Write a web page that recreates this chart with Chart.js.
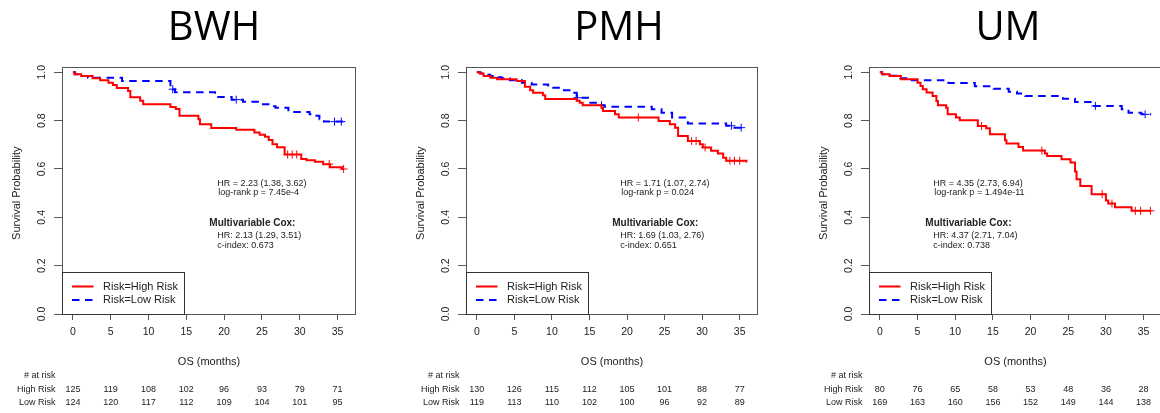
<!DOCTYPE html>
<html><head><meta charset="utf-8">
<script src="https://cdn.jsdelivr.net/npm/chart.js@4.4.1/dist/chart.umd.min.js"></script>
<style>
html,body{margin:0;padding:0;background:#fff;overflow:hidden;width:1160px;height:413px;position:relative;}
.panel{position:absolute;top:0;width:400px;height:413px;}
canvas{display:block;}
</style></head><body>
<div class="panel" style="left:0px"><canvas id="c0" width="400" height="413"></canvas></div>
<div class="panel" style="left:400px"><canvas id="c1" width="400" height="413"></canvas></div>
<div class="panel" style="left:800px"><canvas id="c2" width="400" height="413"></canvas></div>
<script>
// ---------- data ----------
const monthTicks = [0, 5, 10, 15, 20, 25, 30, 35];
const survTicks = [0, 0.2, 0.4, 0.6, 0.8, 1.0];
const cohortNames = ['BWH', 'PMH', 'UM'];
const seriesNames = ['Risk=High Risk', 'Risk=Low Risk'];
const riskRowNames = ['High Risk', 'Low Risk'];

// BWH
const bwhHighTime = [0, 0.2, 1.1, 2.6, 3.6, 4.7, 5.3, 5.8, 7.3, 7.6, 8.9, 9.3, 12.9, 13.6, 14.1, 16.6, 16.8, 18.3, 21.6, 24.0, 24.7, 25.4, 25.9, 26.4, 27.0, 28.0, 30.2, 30.9, 32.0, 33.1, 34.0, 35.6, 35.8];
const bwhHighSurv = [1.0, 0.992, 0.985, 0.975, 0.967, 0.957, 0.948, 0.935, 0.923, 0.897, 0.882, 0.868, 0.857, 0.848, 0.820, 0.806, 0.785, 0.770, 0.762, 0.751, 0.742, 0.733, 0.720, 0.702, 0.690, 0.660, 0.641, 0.636, 0.630, 0.620, 0.607, 0.600, 0.600];
const bwhHighCensTime = [28.4, 29.0, 29.6, 33.9, 35.8];
const bwhHighCensSurv = [0.660, 0.660, 0.660, 0.620, 0.600];
const bwhLowTime = [0, 0.3, 0.7, 2.0, 6.5, 12.9, 13.5, 18.8, 21.0, 22.5, 25.0, 26.2, 26.8, 28.5, 31.3, 32.0, 32.6, 33.2, 35.8];
const bwhLowSurv = [1.0, 0.992, 0.985, 0.978, 0.964, 0.930, 0.918, 0.898, 0.887, 0.878, 0.868, 0.860, 0.853, 0.836, 0.826, 0.820, 0.806, 0.796, 0.796];
const bwhLowCensTime = [13.2, 21.6, 34.6, 35.5];
const bwhLowCensSurv = [0.930, 0.887, 0.796, 0.796];
const bwhStats = ['HR = 2.23 (1.38, 3.62)', 'log-rank p = 7.45e-4', 'Multivariable Cox:', 'HR: 2.13 (1.29, 3.51)', 'c-index: 0.673'];
const bwhAtRiskHigh = [125, 119, 108, 102, 96, 93, 79, 71];
const bwhAtRiskLow = [124, 120, 117, 112, 109, 104, 101, 95];

// PMH
const pmhHighTime = [0, 0.4, 0.9, 1.8, 2.7, 5.3, 6.4, 7.1, 7.5, 8.8, 9.1, 13.3, 13.7, 14.1, 16.6, 16.8, 18.4, 18.9, 24.2, 25.7, 26.4, 26.8, 28.1, 29.7, 30.1, 31.2, 32.1, 32.8, 33.2, 35.9];
const pmhHighSurv = [1.0, 0.995, 0.985, 0.978, 0.971, 0.964, 0.940, 0.926, 0.915, 0.905, 0.890, 0.882, 0.874, 0.864, 0.853, 0.840, 0.826, 0.813, 0.799, 0.785, 0.771, 0.737, 0.716, 0.702, 0.689, 0.675, 0.664, 0.647, 0.634, 0.627];
const pmhHighCensTime = [21.5, 28.6, 29.2, 30.4, 33.7, 34.3, 35.0];
const pmhHighCensSurv = [0.813, 0.716, 0.716, 0.689, 0.634, 0.634, 0.634];
const pmhLowTime = [0, 0.5, 0.9, 1.8, 2.4, 3.3, 4.4, 6.0, 7.3, 9.5, 11.3, 12.6, 13.3, 14.8, 16.3, 17.0, 23.3, 24.6, 26.0, 28.1, 33.2, 34.3, 35.9];
const pmhLowSurv = [1.0, 0.995, 0.990, 0.985, 0.980, 0.975, 0.967, 0.957, 0.950, 0.936, 0.926, 0.915, 0.895, 0.874, 0.864, 0.858, 0.847, 0.833, 0.813, 0.788, 0.779, 0.771, 0.771];
const pmhLowCensTime = [13.4, 16.6, 33.9, 35.2];
const pmhLowCensSurv = [0.895, 0.864, 0.779, 0.771];
const pmhStats = ['HR = 1.71 (1.07, 2.74)', 'log-rank p = 0.024', 'Multivariable Cox:', 'HR: 1.69 (1.03, 2.76)', 'c-index: 0.651'];
const pmhAtRiskHigh = [130, 126, 115, 112, 105, 101, 88, 77];
const pmhAtRiskLow = [119, 113, 110, 102, 100, 96, 92, 89];

// UM
const umHighTime = [0, 0.3, 1.3, 2.8, 5.0, 5.4, 5.7, 6.2, 7.0, 7.5, 7.7, 8.8, 9.0, 10.1, 10.6, 13.0, 14.1, 14.6, 16.6, 16.8, 18.4, 19.0, 21.9, 22.2, 24.1, 25.3, 25.9, 26.1, 26.6, 28.1, 30.0, 30.3, 31.2, 33.4, 36.0];
const umHighSurv = [1.0, 0.992, 0.985, 0.971, 0.957, 0.943, 0.930, 0.916, 0.902, 0.881, 0.864, 0.853, 0.826, 0.813, 0.802, 0.778, 0.769, 0.744, 0.719, 0.705, 0.691, 0.676, 0.664, 0.654, 0.640, 0.627, 0.590, 0.558, 0.530, 0.496, 0.470, 0.457, 0.442, 0.427, 0.427];
const umHighCensTime = [13.5, 21.5, 29.5, 30.8, 33.9, 34.6, 35.9];
const umHighCensSurv = [0.778, 0.676, 0.496, 0.457, 0.427, 0.427, 0.427];
const umLowTime = [0, 0.3, 1.3, 2.7, 4.0, 9.1, 12.6, 15.1, 17.1, 18.2, 19.3, 24.3, 25.9, 28.2, 32.1, 33.0, 34.7, 36.0];
const umLowSurv = [1.0, 0.992, 0.986, 0.975, 0.967, 0.956, 0.942, 0.932, 0.920, 0.912, 0.902, 0.891, 0.877, 0.861, 0.847, 0.833, 0.826, 0.826];
const umLowCensTime = [28.6, 35.2];
const umLowCensSurv = [0.861, 0.826];
const umStats = ['HR = 4.35 (2.73, 6.94)', 'log-rank p = 1.494e-11', 'Multivariable Cox:', 'HR: 4.37 (2.71, 7.04)', 'c-index: 0.738'];
const umAtRiskHigh = [80, 76, 65, 58, 53, 48, 36, 28];
const umAtRiskLow = [169, 163, 160, 156, 152, 149, 144, 138];

// ---------- layout (positions / styles) ----------
const FONT = '"Liberation Sans", Arial, Helvetica, sans-serif';
const layout = [
  { canvasLeft: 0,   yAxisW: 62, padRight: 44, titleX: 214, statsMonth: 19.1 },
  { canvasLeft: 400, yAxisW: 66, padRight: 42, titleX: 619, statsMonth: 19.1 },
  { canvasLeft: 800, yAxisW: 69, padRight: 38, titleX: 1008, statsMonth: 7.1 }
];
const statsLineY = [0.540, 0.503, 0.377, 0.324, 0.282];
const statsLineDx = [0, 1, -8, 0, 0];
const RED = '#ff0000', BLUE = '#0000ff', AXIS = '#555555', TXT = '#222222';

function pts(t, s) { return t.map((v, i) => ({ x: v, y: s[i] })); }

const panels = [
  { high: [bwhHighTime, bwhHighSurv, bwhHighCensTime, bwhHighCensSurv], low: [bwhLowTime, bwhLowSurv, bwhLowCensTime, bwhLowCensSurv], stats: bwhStats, risk: [bwhAtRiskHigh, bwhAtRiskLow] },
  { high: [pmhHighTime, pmhHighSurv, pmhHighCensTime, pmhHighCensSurv], low: [pmhLowTime, pmhLowSurv, pmhLowCensTime, pmhLowCensSurv], stats: pmhStats, risk: [pmhAtRiskHigh, pmhAtRiskLow] },
  { high: [umHighTime, umHighSurv, umHighCensTime, umHighCensSurv], low: [umLowTime, umLowSurv, umLowCensTime, umLowCensSurv], stats: umStats, risk: [umAtRiskHigh, umAtRiskLow] }
];

function decoPlugin(idx) {
  const L = layout[idx], P = panels[idx];
  return {
    id: 'deco' + idx,
    afterDraw(chart) {
      const ctx = chart.ctx, ca = chart.chartArea, xs = chart.scales.x, ys = chart.scales.y;
      ctx.save();
      // box
      ctx.strokeStyle = AXIS; ctx.lineWidth = 1;
      ctx.strokeRect(ca.left + 0.5, ca.top + 0.5, ca.right - ca.left - 1, ca.bottom - ca.top);
      // y tick labels (rotated like R)
      ctx.fillStyle = TXT;
      ctx.font = '10.5px ' + FONT;
      ctx.textAlign = 'center'; ctx.textBaseline = 'middle';
      survTicks.forEach(v => {
        ctx.save();
        ctx.translate(ca.left - 20, ys.getPixelForValue(v));
        ctx.rotate(-Math.PI / 2);
        ctx.fillText(v.toFixed(1), 0, 0);
        ctx.restore();
      });
      // y title
      ctx.font = '11px ' + FONT;
      ctx.save();
      ctx.translate(ca.left - 45, (ys.getPixelForValue(0) + ys.getPixelForValue(1)) / 2);
      ctx.rotate(-Math.PI / 2);
      ctx.fillText('Survival Probability', 0, 0);
      ctx.restore();
      // x title
      ctx.fillText('OS (months)', (ca.left + ca.right) / 2, ca.bottom + 48);
      // cohort title
      ctx.font = '40px "Open Sans", "Noto Sans", sans-serif';
      ctx.fillStyle = '#000';
      ctx.fillText(cohortNames[idx], L.titleX - L.canvasLeft, 29);
      // legend
      const lgTop = ca.bottom - 42, lgW = 122;
      ctx.fillStyle = '#fff';
      ctx.fillRect(ca.left, lgTop, lgW, ca.bottom - lgTop);
      ctx.strokeStyle = '#333'; ctx.lineWidth = 1;
      ctx.strokeRect(ca.left + 0.5, lgTop + 0.5, lgW, ca.bottom - lgTop);
      const items = [{ c: RED, d: [] }, { c: BLUE, d: [7.5, 5.5] }];
      ctx.font = '11px ' + FONT; ctx.textAlign = 'left';
      items.forEach((it, k) => {
        const yy = lgTop + 14.5 + k * 13.5;
        ctx.strokeStyle = it.c; ctx.lineWidth = 2; ctx.setLineDash(it.d);
        ctx.beginPath(); ctx.moveTo(ca.left + 10, yy); ctx.lineTo(ca.left + 31.5, yy); ctx.stroke();
        ctx.setLineDash([]);
        ctx.fillStyle = TXT;
        ctx.fillText(seriesNames[k], ca.left + 41, yy);
      });
      // stats text
      P.stats.forEach((s, k) => {
        ctx.font = (k === 2 ? 'bold 10px ' : '9px ') + FONT;
        ctx.fillStyle = TXT;
        ctx.fillText(s, xs.getPixelForValue(L.statsMonth) + statsLineDx[k], ys.getPixelForValue(statsLineY[k]));
      });
      // at-risk table
      ctx.font = '9px ' + FONT; ctx.textAlign = 'right';
      const rowY = [ca.bottom + 62, ca.bottom + 75.3, ca.bottom + 88.6];
      ctx.fillText('# at risk', ca.left - 6.5, rowY[0]);
      riskRowNames.forEach((n, k) => ctx.fillText(n, ca.left - 6.5, rowY[k + 1]));
      ctx.textAlign = 'center';
      P.risk.forEach((row, k) => row.forEach((v, j) => ctx.fillText(String(v), xs.getPixelForValue(monthTicks[j]), rowY[k + 1])));
      ctx.restore();
    }
  };
}

Chart.defaults.font.family = FONT;
panels.forEach((P, idx) => {
  const L = layout[idx];
  new Chart(document.getElementById('c' + idx), {
    type: 'line',
    data: {
      datasets: [
        { label: seriesNames[0], data: pts(P.high[0], P.high[1]), stepped: 'before', borderColor: RED, borderWidth: 2, pointRadius: 0, fill: false },
        { label: seriesNames[1], data: pts(P.low[0], P.low[1]), stepped: 'before', borderColor: BLUE, borderWidth: 2, borderDash: [7.5, 5.5], pointRadius: 0, fill: false },
        { label: 'cens high', data: pts(P.high[2], P.high[3]), showLine: false, pointStyle: 'cross', pointRadius: 4, borderColor: RED, borderWidth: 1, pointBorderColor: RED },
        { label: 'cens low', data: pts(P.low[2], P.low[3]), showLine: false, pointStyle: 'cross', pointRadius: 4, borderColor: BLUE, borderWidth: 1, pointBorderColor: BLUE }
      ]
    },
    options: {
      responsive: false, animation: false, devicePixelRatio: 1,
      layout: { padding: { left: 0, right: L.padRight, top: 67, bottom: 0 } },
      plugins: { legend: { display: false }, tooltip: { enabled: false }, title: { display: false } },
      scales: {
        x: {
          type: 'linear', min: -1.44, max: 37.44,
          afterBuildTicks: s => { s.ticks = monthTicks.map(v => ({ value: v })); },
          afterFit: s => { s.height = 99; },
          ticks: { autoSkip: false, maxRotation: 0, color: TXT, font: { size: 10.5, family: FONT }, padding: 6, callback: v => String(v) },
          grid: { drawOnChartArea: false, tickLength: 6, color: AXIS },
          border: { display: false }
        },
        y: {
          type: 'linear', min: 0, max: 1.022,
          afterBuildTicks: s => { s.ticks = survTicks.map(v => ({ value: v })); },
          afterFit: s => { s.width = L.yAxisW; },
          ticks: { display: false },
          grid: { drawOnChartArea: false, tickLength: 8, color: AXIS },
          border: { display: false }
        }
      }
    },
    plugins: [decoPlugin(idx)]
  });
});
</script>
</body></html>
